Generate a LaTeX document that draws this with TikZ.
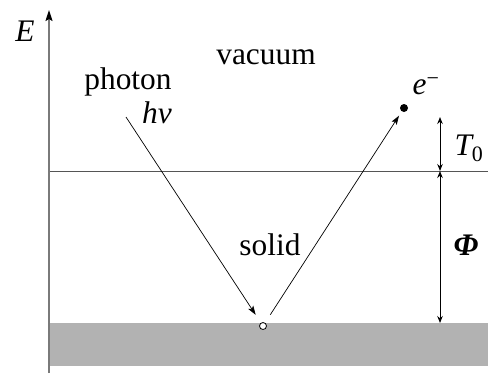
\documentclass[tikz,border=0pt]{standalone}
\usepackage{fontspec}
\setmainfont{Liberation Serif}
\usetikzlibrary{arrows.meta,positioning}
\definecolor{ink}{HTML}{000000}
\definecolor{axisgray}{HTML}{7A7A7A}
\definecolor{lvlgray}{HTML}{555555}
\definecolor{band}{HTML}{B2B2B2}
\tikzset{
  lbl/.style={font=\fontsize{31.5}{36}\selectfont, inner sep=0pt},
  mlbl/.style={lbl, font=\fontsize{31.5}{36}\selectfont\itshape},
  ray/.style={-{Stealth[length=9bp,width=6bp,inset=2bp]}, draw=ink, line width=0.7bp},
  gap/.style={{Stealth[length=7bp,width=5.5bp]}-{Stealth[length=7bp,width=5.5bp]},
              draw=ink, line width=1bp},
  lvl/.style={draw=lvlgray, line width=1bp},
  hole/.style={circle, draw=ink, fill=white, line width=0.8bp,
               minimum size=7bp, inner sep=0pt},
  elec/.style={circle, fill=ink, minimum size=8bp, inner sep=0pt}
}
\begin{document}
\begin{tikzpicture}[x=1bp, y=-1bp]
  \useasboundingbox (0,0) rectangle (488,373);
  % bands
  \fill[band] (49,323) rectangle (488,366);
  \draw[lvl] (49,171) -- (488,171);
  \coordinate (ax0) at (49,373);
  \coordinate (ax1) at (49,10);
  \draw[axisgray, line width=1.6bp, -{Stealth[length=11bp,width=7bp,inset=2bp,color=ink]}] (ax0) -- (ax1);
  \node[mlbl] (elab) at (25,31) {E};

  \node[lbl] (vac) at (266,57) {vacuum};
  \node[lbl] (sol) at (270,245) {solid};
  \node[lbl] (phot) at (128,82) {photon};
  \node[mlbl] (hnu) at (157,113) {hν};

  % photoemission
  \coordinate (pin) at (126,117);
  \node[hole] (h) at (263,326) {};
  \node[elec] (el) at (404,108) {};
  \node[mlbl] (elbl) at (426,86) {e\textsuperscript{\upshape −}};
  \draw[ray, shorten >=9.5bp] (pin) -- (h);
  \draw[ray, shorten <=9.5bp, shorten >=5bp] (h) -- (el);

  % energy gaps
  \coordinate (ttop) at (440,117);
  \coordinate (vl) at (440,171);
  \coordinate (pbot) at (440,323);
  \draw[gap] (ttop) -- (vl);
  \draw[gap] (vl) -- (pbot);
  \node[mlbl] (tlbl) at (469,148) {T\textsubscript{\upshape 0}};
  \node[mlbl, font=\fontsize{31.5}{36}\selectfont\bfseries\itshape] (philbl) at (466,245) {Φ};
\end{tikzpicture}
\end{document}
